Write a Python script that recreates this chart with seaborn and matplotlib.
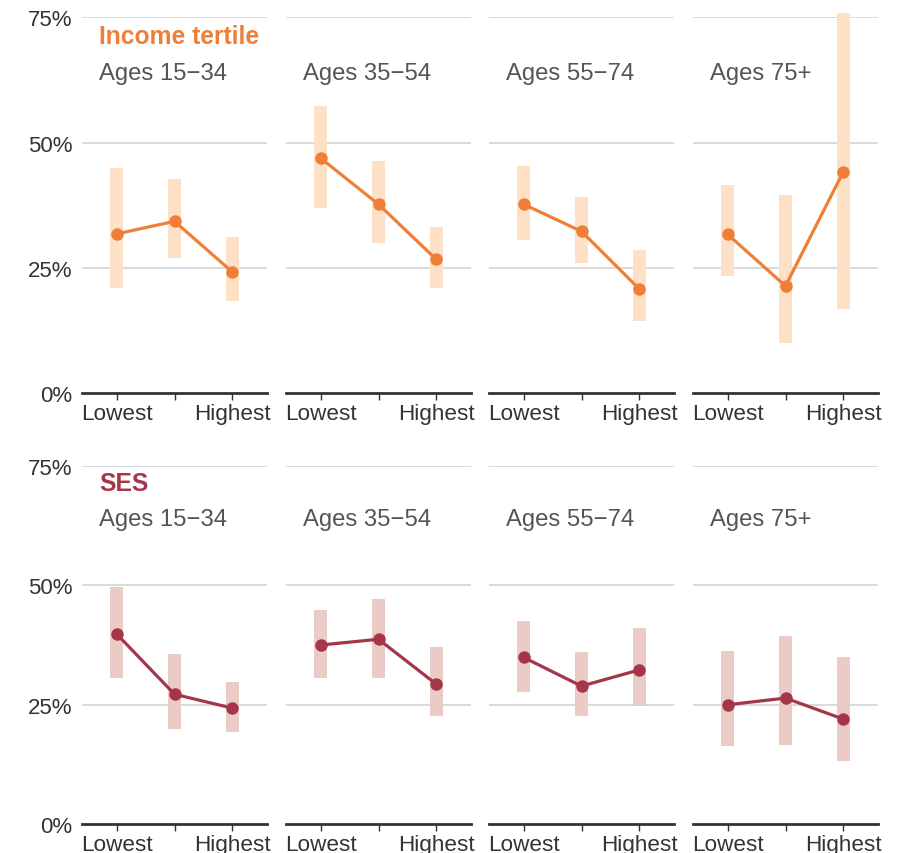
import matplotlib
matplotlib.use('Agg')
import matplotlib.pyplot as plt
import seaborn as sns
import pandas as pd

# values, in percent
groups = ['Lowest', 'Middle', 'Highest']
ages = ['Ages 15\u221234', 'Ages 35\u221254', 'Ages 55\u221274', 'Ages 75+']

income_mid = [[31.8, 34.3, 24.2], [46.9, 37.7, 26.7], [37.7, 32.3, 20.8], [31.7, 21.4, 44.2]]
income_lo = [[21.1, 27.0, 18.5], [36.9, 29.9, 21.1], [30.5, 26.0, 14.5], [23.3, 10.0, 16.9]]
income_hi = [[44.9, 42.7, 31.2], [57.3, 46.4, 33.1], [45.3, 39.2, 28.5], [41.6, 39.5, 75.8]]

ses_mid = [[39.8, 27.2, 24.3], [37.5, 38.7, 29.3], [34.9, 28.9, 32.3], [25.0, 26.4, 22.0]]
ses_lo = [[30.7, 19.9, 19.4], [30.7, 30.7, 22.7], [27.7, 22.7, 24.7], [16.3, 16.6, 13.2]]
ses_hi = [[49.7, 35.7, 29.8], [44.9, 47.2, 37.1], [42.6, 36.0, 41.0], [36.3, 39.4, 34.9]]

rows = [
    ('Income tertile', income_mid, income_lo, income_hi, '#ef7f37', '#fde0c6'),
    ('SES', ses_mid, ses_lo, ses_hi, '#a5364a', '#ebcbc6'),
]

sns.set_theme(style='white')
plt.rcParams['font.family'] = ['Liberation Sans', 'DejaVu Sans']

W, H = 897, 854
fig = plt.figure(figsize=(W / 100, H / 100), dpi=100)

lefts = [82, 286, 489, 693]
panel_w = 185
row_box = [(18.3, 394.3), (466.7, 825.3)]  # pixel top (75%) and bottom (0%)

for r, (name, mid, lo, hi, line_col, bar_col) in enumerate(rows):
    top, bottom = row_box[r]
    for c in range(4):
        ax = fig.add_axes([lefts[c] / W, 1 - bottom / H, panel_w / W, (bottom - top) / H])
        df = pd.DataFrame({'x': range(3), 'y': mid[c]})
        ax.bar(df['x'], [h - l for h, l in zip(hi[c], lo[c])], bottom=lo[c],
               width=0.22, color=bar_col, linewidth=0, clip_on=False, zorder=1)
        for v in [25, 50, 75]:
            ax.axhline(v, color='#cfd0d6', linewidth=1.1, zorder=0)
        sns.lineplot(data=df, x='x', y='y', ax=ax, color=line_col, linewidth=2.3,
                     marker='o', markersize=9, markeredgewidth=0, zorder=3)
        ax.set_xlim(-0.6, 2.6)
        ax.set_ylim(0, 75)
        ax.set_xticks([0, 1, 2])
        ax.set_xticklabels(['Lowest', '', 'Highest'], fontsize=16.2, color='#333333')
        ax.tick_params(axis='x', length=5, width=1, color='#333333', pad=2, bottom=True)
        ax.set_yticks([0, 25, 50, 75])
        if c == 0:
            ax.set_yticklabels(['0%', '25%', '50%', '75%'], fontsize=16, color='#333333')
            ax.tick_params(axis='y', length=0, pad=7)
        else:
            ax.set_yticklabels([])
            ax.tick_params(axis='y', length=0)
        ax.set_xlabel('')
        ax.set_ylabel('')
        for s in ['top', 'right', 'left']:
            ax.spines[s].set_visible(False)
        ax.spines['bottom'].set_color('#333333')
        ax.spines['bottom'].set_linewidth(2)
        ax.grid(False)
        ax.text(0.092, 63.8, ages[c], transform=ax.get_yaxis_transform(),
                fontsize=17.2, color='#555555', va='center', ha='left')
        if c == 0:
            ax.text(0.092, 71.3, name, transform=ax.get_yaxis_transform(),
                    fontsize=17.7, fontweight='bold', color=line_col, va='center', ha='left')

fig.savefig('out.png', dpi=100)
